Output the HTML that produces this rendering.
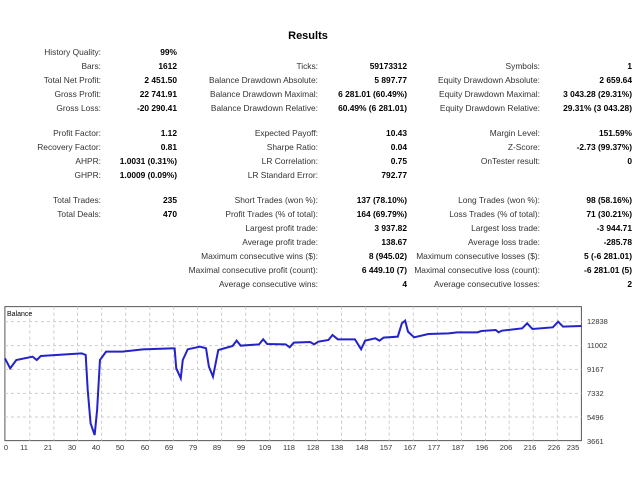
<!DOCTYPE html>
<html><head><meta charset="utf-8"><style>
body{margin:0;width:640px;height:480px;background:#fff;position:relative;overflow:hidden;font-family:"Liberation Sans",sans-serif;font-size:8.4px;color:#333}
.t{position:absolute;white-space:nowrap;text-align:right;line-height:11px}
.v{font-weight:bold;color:#000}
</style></head><body>
<div class="t v" style="left:270px;top:31px;width:76px;text-align:center;font-size:11px">Results</div>
<div id="g"></div>
<svg width="640" height="480" style="position:absolute;left:0;top:0" font-family="Liberation Sans, sans-serif" font-size="8" fill="#333">
<g transform="translate(0,300) scale(0.408,0.3333)">
<rect x="12" y="20" width="1413" height="402" fill="#fff" stroke="#555" stroke-width="1" vector-effect="non-scaling-stroke"/>
<g stroke="#ccc" stroke-dasharray="3,3">
<path d="M12 65H1425M12 137H1425M12 208H1425M12 280H1425M12 351H1425" vector-effect="non-scaling-stroke"/>
<path d="M73 20V422M132 20V422M190 20V422M249 20V422M308 20V422M367 20V422M425 20V422M484 20V422M543 20V422M602 20V422M661 20V422M720 20V422M778 20V422M837 20V422M896 20V422M954 20V422M1013 20V422M1072 20V422M1131 20V422M1190 20V422M1248 20V422M1307 20V422M1366 20V422" vector-effect="non-scaling-stroke"/>
</g>
<polyline fill="none" stroke="#2323c8" stroke-width="2" vector-effect="non-scaling-stroke" points="12,175 25,205 40,180 80,170 90,180 100,168 200,160 210,165 215,270 222,370 232,405 238,330 245,180 260,155 300,155 350,148 420,145 428,145 432,205 443,235 448,180 460,148 490,140 505,145 512,200 522,230 535,150 570,138 580,122 590,137 635,133 645,118 655,132 700,133 710,142 720,128 760,126 770,133 780,125 805,120 815,105 828,118 870,118 885,148 895,122 920,115 930,122 940,113 975,110 985,70 993,62 1000,95 1015,112 1050,102 1100,100 1120,97 1170,97 1180,93 1215,90 1222,97 1230,92 1280,85 1292,70 1305,87 1355,82 1368,65 1380,80 1425,78"/>
</g>
<text x="7" y="316" font-size="7" fill="#000">Balance</text>
<g font-size="7.5">
<text x="587" y="324">12838</text><text x="587" y="348">11002</text><text x="587" y="372">9167</text><text x="587" y="396">7332</text><text x="587" y="420">5496</text><text x="587" y="444">3661</text>
</g>
<g font-size="7.5" text-anchor="middle">
<text x="6" y="450">0</text><text x="24" y="450">11</text><text x="48" y="450">21</text><text x="72" y="450">30</text><text x="96" y="450">40</text><text x="120" y="450">50</text><text x="145" y="450">60</text><text x="169" y="450">69</text><text x="193" y="450">79</text><text x="217" y="450">89</text><text x="241" y="450">99</text><text x="265" y="450">109</text><text x="289" y="450">118</text><text x="313" y="450">128</text><text x="337" y="450">138</text><text x="362" y="450">148</text><text x="386" y="450">157</text><text x="410" y="450">167</text><text x="434" y="450">177</text><text x="458" y="450">187</text><text x="482" y="450">196</text><text x="506" y="450">206</text><text x="530" y="450">216</text><text x="554" y="450">226</text><text x="573" y="450">235</text>
</g>
</svg>
<script>
var rows=[
[47,["History Quality:","99%"]],
[61,["Bars:","1612"],["Ticks:","59173312"],["Symbols:","1"]],
[75,["Total Net Profit:","2 451.50"],["Balance Drawdown Absolute:","5 897.77"],["Equity Drawdown Absolute:","2 659.64"]],
[89,["Gross Profit:","22 741.91"],["Balance Drawdown Maximal:","6 281.01 (60.49%)"],["Equity Drawdown Maximal:","3 043.28 (29.31%)"]],
[103,["Gross Loss:","-20 290.41"],["Balance Drawdown Relative:","60.49% (6 281.01)"],["Equity Drawdown Relative:","29.31% (3 043.28)"]],
[128,["Profit Factor:","1.12"],["Expected Payoff:","10.43"],["Margin Level:","151.59%"]],
[142,["Recovery Factor:","0.81"],["Sharpe Ratio:","0.04"],["Z-Score:","-2.73 (99.37%)"]],
[156,["AHPR:","1.0031 (0.31%)"],["LR Correlation:","0.75"],["OnTester result:","0"]],
[170,["GHPR:","1.0009 (0.09%)"],["LR Standard Error:","792.77"]],
[195,["Total Trades:","235"],["Short Trades (won %):","137 (78.10%)"],["Long Trades (won %):","98 (58.16%)"]],
[209,["Total Deals:","470"],["Profit Trades (% of total):","164 (69.79%)"],["Loss Trades (% of total):","71 (30.21%)"]],
[223,null,["Largest profit trade:","3 937.82"],["Largest loss trade:","-3 944.71"]],
[237,null,["Average profit trade:","138.67"],["Average loss trade:","-285.78"]],
[251,null,["Maximum consecutive wins ($):","8 (945.02)"],["Maximum consecutive losses ($):","5 (-6 281.01)"]],
[265,null,["Maximal consecutive profit (count):","6 449.10 (7)"],["Maximal consecutive loss (count):","-6 281.01 (5)"]],
[279,null,["Average consecutive wins:","4"],["Average consecutive losses:","2"]]];
var cols=[[101,177],[318,407],[540,632]],h="";
rows.forEach(function(r){for(var i=1;i<r.length;i++){if(!r[i])continue;var c=cols[i-1];
h+='<div class="t" style="right:'+(640-c[0])+'px;top:'+r[0]+'px">'+r[i][0]+'</div>';
h+='<div class="t v" style="right:'+(640-c[1])+'px;top:'+r[0]+'px">'+r[i][1]+'</div>';}});
document.getElementById('g').innerHTML=h;
</script>
</body></html>
